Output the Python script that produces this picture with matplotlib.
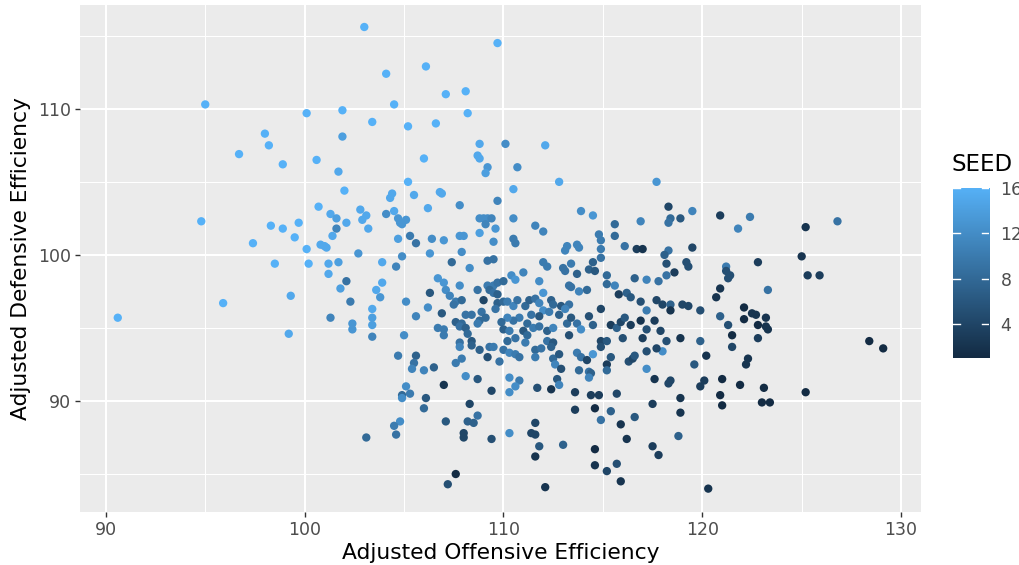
"""
Seed scatter: adjusted offensive vs defensive efficiency, ggplot look.
"""
import matplotlib
matplotlib.use('Agg')
import matplotlib.pyplot as plt
from matplotlib.colors import LinearSegmentedColormap, Normalize
import numpy as np

# (offense, defense, seed)
POINTS = [
    (95.0, 110.3, 16), (98.0, 108.3, 16), (98.2, 107.5, 16), (96.7, 106.9, 16), (98.9, 106.2, 16),
    (103.0, 115.6, 16), (109.7, 114.5, 16), (104.1, 112.4, 16), (106.1, 112.9, 16), (107.1, 111.0, 16),
    (108.1, 111.2, 16), (104.5, 110.3, 16), (100.1, 109.7, 16), (101.9, 109.9, 16), (108.2, 109.7, 16),
    (103.4, 109.1, 16), (105.2, 108.8, 16), (106.6, 109.0, 16), (101.9, 108.1, 14), (108.8, 107.6, 15),
    (108.7, 106.8, 15), (108.8, 106.6, 15), (109.2, 106.0, 13), (109.1, 105.6, 14), (100.6, 106.5, 16),
    (101.7, 105.7, 15), (106.0, 106.6, 16), (110.1, 107.6, 12), (112.1, 107.5, 15), (110.7, 106.0, 12),
    (94.8, 102.3, 16), (98.3, 102.0, 16), (98.9, 101.8, 16), (97.4, 100.8, 16), (98.5, 99.4, 16),
    (95.9, 96.7, 16), (90.6, 95.7, 16), (99.3, 97.2, 15), (99.2, 94.6, 15),
    (105.2, 105.0, 16), (102.0, 104.4, 16), (104.4, 104.2, 15), (104.3, 103.9, 15), (105.5, 104.1, 15),
    (106.8, 104.3, 15), (106.9, 104.2, 15), (107.8, 103.4, 12), (109.7, 103.7, 11), (100.7, 103.3, 16),
    (102.8, 103.1, 15), (104.5, 103.0, 15), (106.2, 103.2, 15), (101.3, 102.8, 15), (101.6, 102.5, 14),
    (103.1, 102.7, 15), (102.9, 102.4, 15), (104.1, 102.8, 12), (104.7, 102.5, 13), (104.8, 102.2, 13),
    (105.1, 102.4, 13), (104.9, 102.1, 13), (99.7, 102.2, 16), (102.1, 102.2, 15), (101.6, 101.8, 11),
    (103.2, 101.8, 15), (108.8, 102.5, 12), (109.0, 102.5, 12), (109.2, 102.5, 12), (109.4, 102.5, 11),
    (109.1, 102.1, 11), (109.6, 101.8, 13), (108.8, 101.5, 14), (99.5, 101.2, 16), (101.4, 101.3, 15),
    (104.7, 101.1, 14), (105.3, 101.3, 10), (105.6, 100.8, 9), (106.4, 101.1, 12), (107.0, 101.0, 13),
    (107.8, 101.3, 13), (108.0, 101.3, 13), (109.5, 100.9, 12), (100.8, 100.7, 15), (101.0, 100.6, 15),
    (101.1, 100.5, 15), (100.1, 100.4, 16), (102.7, 100.1, 13), (104.9, 99.9, 12), (106.3, 100.1, 13),
    (107.9, 100.2, 12), (100.2, 99.4, 16), (101.2, 99.4, 15), (101.7, 99.5, 14), (103.9, 99.5, 15),
    (104.6, 99.2, 11), (107.4, 99.5, 8), (108.3, 99.1, 12), (109.2, 99.6, 9), (109.5, 99.7, 9),
    (101.2, 98.7, 15), (102.1, 98.2, 9), (101.8, 97.7, 14), (103.9, 98.1, 15), (103.6, 97.6, 15),
    (103.8, 97.1, 13), (102.3, 96.8, 10), (106.7, 98.4, 13), (107.0, 98.1, 13), (107.1, 97.6, 12),
    (107.3, 97.2, 11), (107.6, 96.8, 10), (107.5, 96.6, 9), (107.8, 97.9, 12), (106.3, 97.4, 6),
    (105.1, 96.8, 12), (106.2, 96.4, 12), (106.9, 96.0, 6), (107.9, 96.9, 8), (108.7, 97.6, 9),
    (109.0, 96.9, 4), (109.2, 97.9, 10), (109.5, 97.9, 10), (109.3, 97.6, 8), (109.5, 97.4, 9),
    (109.7, 98.1, 9), (109.7, 97.3, 7), (109.7, 96.7, 7), (109.6, 96.3, 9), (103.4, 96.3, 15),
    (103.4, 95.7, 14), (103.4, 95.2, 14), (103.4, 94.4, 11), (101.3, 95.7, 11), (102.4, 95.3, 13),
    (102.4, 94.9, 13), (105.0, 94.5, 12), (105.6, 95.8, 11), (106.7, 95.0, 10), (107.0, 94.9, 10),
    (107.0, 94.5, 10), (107.6, 95.4, 7), (107.9, 95.3, 8), (108.1, 95.9, 9), (108.4, 95.9, 9),
    (108.9, 96.1, 9), (108.8, 95.5, 8), (109.1, 95.7, 8), (108.7, 95.3, 10), (107.8, 95.1, 9),
    (108.1, 95.0, 7), (108.2, 94.6, 8), (108.4, 94.1, 6), (107.8, 94.0, 9),
    (112.8, 105.0, 15), (117.7, 105.0, 13), (110.5, 104.5, 15), (113.9, 103.0, 12), (114.5, 102.7, 13),
    (118.3, 103.3, 4), (119.5, 103.0, 11), (118.9, 102.5, 6), (118.4, 102.5, 8), (118.3, 102.2, 9),
    (116.9, 102.3, 11), (115.6, 102.1, 8), (110.5, 102.5, 12), (111.6, 102.0, 11), (112.0, 101.6, 11),
    (110.5, 101.1, 10), (110.6, 100.8, 10), (114.8, 101.4, 10), (114.9, 101.0, 10), (114.9, 100.4, 10),
    (114.9, 99.8, 9), (115.6, 101.3, 8), (116.1, 100.6, 9), (116.7, 100.4, 3), (117.0, 100.4, 2),
    (113.2, 100.6, 11), (113.1, 100.3, 11), (113.7, 100.7, 11), (113.8, 100.5, 11), (118.3, 100.3, 9),
    (119.5, 100.5, 4), (118.1, 100.0, 7), (118.2, 99.4, 5), (119.2, 99.5, 5), (119.3, 99.2, 5),
    (118.6, 98.8, 3), (118.2, 98.6, 9), (112.0, 99.5, 10), (112.2, 99.2, 10), (111.0, 98.8, 11),
    (110.4, 98.6, 12), (110.6, 98.3, 13), (113.0, 99.1, 9), (113.1, 98.9, 9), (113.4, 99.4, 10),
    (113.7, 98.7, 7), (114.3, 99.0, 7), (114.6, 98.9, 6), (114.5, 99.5, 7), (115.2, 98.6, 8),
    (115.2, 98.0, 8), (115.6, 97.9, 11), (116.6, 98.4, 7), (117.2, 98.3, 11), (117.8, 98.2, 9),
    (110.0, 98.2, 8), (111.8, 98.2, 12), (112.0, 97.4, 13), (113.3, 97.9, 9), (113.4, 97.8, 9),
    (113.8, 97.5, 11), (114.2, 97.6, 8), (115.8, 97.3, 3), (116.2, 97.4, 7), (116.4, 97.1, 6),
    (116.9, 96.8, 5), (117.7, 96.9, 4), (118.0, 96.6, 4), (118.4, 96.6, 7), (119.0, 96.6, 4),
    (119.3, 96.5, 4), (119.9, 96.2, 5), (118.4, 96.2, 2), (117.2, 96.2, 10), (114.9, 96.3, 4),
    (110.0, 96.8, 8), (110.2, 96.8, 10), (110.5, 96.5, 11), (110.7, 96.9, 9), (111.1, 96.5, 8),
    (111.3, 96.9, 7), (111.6, 97.0, 9), (111.8, 96.7, 11), (112.0, 96.2, 12), (112.4, 96.9, 7),
    (112.5, 96.6, 8), (112.9, 96.5, 6), (113.3, 96.6, 9), (113.1, 96.3, 11), (112.8, 95.9, 7),
    (112.3, 96.1, 10), (111.8, 95.8, 6), (111.4, 95.9, 9), (111.2, 95.3, 8), (110.8, 95.7, 10),
    (110.5, 95.5, 9), (110.2, 95.7, 11), (109.9, 95.4, 8), (110.0, 94.9, 7), (110.3, 94.8, 10),
    (110.6, 94.3, 9), (111.0, 94.8, 6), (111.2, 94.5, 8), (111.5, 95.0, 10), (111.8, 95.1, 9),
    (112.2, 94.8, 7), (112.5, 95.0, 11), (113.2, 95.3, 8), (113.4, 95.7, 6), (113.7, 95.3, 9),
    (113.9, 94.9, 12), (114.3, 95.8, 5), (114.5, 95.2, 7), (113.3, 94.5, 5), (112.2, 94.1, 9),
    (112.5, 94.0, 6), (111.1, 94.0, 10), (110.2, 94.1, 8),
    (115.4, 95.2, 3), (115.7, 95.0, 7), (115.9, 95.4, 4), (116.1, 95.7, 6), (116.4, 95.2, 3),
    (116.9, 95.5, 2), (117.2, 94.9, 5), (117.6, 95.5, 3), (117.9, 94.8, 4), (117.0, 94.3, 3),
    (118.2, 94.1, 5), (118.9, 94.3, 2), (119.9, 94.1, 7), (116.0, 94.3, 5), (114.9, 94.1, 4),
    (115.2, 94.1, 6),
    (120.9, 102.7, 3), (122.4, 102.6, 10), (121.8, 101.8, 11), (125.2, 101.9, 2), (126.8, 102.3, 9),
    (125.0, 99.9, 2), (122.8, 99.5, 3), (121.2, 99.2, 10), (121.2, 98.9, 5), (121.4, 98.6, 5),
    (121.3, 98.4, 5), (125.3, 98.6, 3), (125.9, 98.6, 3), (120.9, 97.7, 2), (120.7, 97.1, 2),
    (123.3, 97.6, 9), (122.1, 96.4, 1), (122.1, 95.6, 1), (122.5, 96.0, 2), (122.7, 95.9, 2),
    (123.2, 95.7, 2), (120.9, 95.8, 7), (121.3, 95.2, 5), (122.8, 95.2, 1), (123.2, 95.1, 2),
    (123.3, 94.9, 2), (121.5, 94.5, 1), (122.8, 94.3, 3), (128.4, 94.1, 1), (129.1, 93.6, 1),
    (121.5, 93.7, 4), (122.3, 92.9, 2), (122.2, 92.5, 2), (121.0, 91.5, 1), (121.9, 91.1, 1),
    (120.9, 90.4, 1), (121.0, 89.7, 1), (123.1, 90.9, 1), (123.0, 89.9, 1), (123.4, 89.9, 1),
    (125.2, 90.6, 1), (120.3, 84.0, 2),
    (104.7, 93.1, 10), (105.6, 93.1, 7), (105.5, 92.6, 9), (105.4, 92.2, 11), (106.0, 92.1, 11),
    (106.5, 92.3, 7), (107.6, 92.6, 10), (107.9, 92.9, 10), (107.8, 93.7, 11), (108.4, 93.8, 7),
    (108.8, 93.5, 7), (109.3, 93.7, 9), (109.5, 93.7, 10), (109.2, 93.0, 5), (109.8, 92.7, 9),
    (108.1, 91.7, 12), (108.7, 91.5, 6), (107.0, 91.1, 2), (109.4, 90.7, 4), (105.1, 91.0, 12),
    (104.9, 90.4, 8), (105.3, 90.5, 10), (104.9, 90.2, 12), (106.1, 90.2, 6), (106.0, 89.5, 8),
    (108.3, 89.8, 4), (108.7, 89.0, 9), (108.2, 88.6, 7), (108.5, 88.5, 7), (104.8, 88.6, 12),
    (104.5, 88.3, 10), (104.6, 87.7, 9), (107.1, 88.6, 6), (103.1, 87.5, 8), (108.0, 87.8, 4),
    (108.0, 87.5, 4), (109.4, 87.4, 5), (107.6, 85.0, 1), (107.2, 84.3, 5),
    (110.0, 93.5, 9), (110.3, 93.3, 11), (110.6, 93.2, 10), (110.8, 93.0, 9), (111.6, 93.5, 8),
    (111.6, 93.0, 10), (111.9, 93.6, 9), (112.4, 93.7, 7), (112.5, 92.9, 8), (112.8, 93.2, 6),
    (112.6, 92.5, 11), (112.9, 92.2, 5), (113.7, 93.3, 10), (113.9, 93.0, 9), (114.2, 92.8, 4),
    (114.5, 93.2, 13), (113.8, 92.1, 8), (114.3, 92.0, 9), (114.4, 91.9, 7), (114.3, 91.6, 11),
    (114.9, 93.7, 5), (115.2, 92.5, 3), (115.2, 92.1, 8), (115.4, 93.0, 6), (116.3, 92.7, 5),
    (116.5, 92.9, 4), (116.6, 93.1, 6), (117.2, 93.4, 5), (117.2, 92.2, 12), (118.0, 93.4, 12),
    (117.7, 93.6, 4), (119.6, 92.5, 6), (120.2, 93.1, 2), (118.4, 91.4, 4), (118.3, 91.2, 4),
    (117.6, 91.5, 2), (120.1, 91.4, 3), (119.9, 91.0, 3), (110.3, 91.6, 12), (110.8, 91.4, 10),
    (110.6, 91.0, 12), (110.3, 90.6, 12), (111.7, 90.9, 5), (112.4, 90.8, 2), (112.7, 91.5, 6),
    (112.8, 91.1, 11), (113.6, 90.6, 3), (114.4, 90.4, 3), (114.8, 90.4, 3), (115.7, 90.5, 4),
    (118.9, 90.2, 2), (117.5, 89.8, 3), (118.9, 89.2, 2), (113.6, 89.4, 3), (114.6, 89.5, 1),
    (115.4, 89.3, 7), (114.9, 88.7, 9), (115.9, 88.4, 2), (116.6, 88.9, 6), (111.6, 88.5, 4),
    (110.3, 87.8, 12), (111.4, 87.8, 4), (111.6, 87.7, 4), (111.8, 86.9, 6), (111.6, 86.2, 2),
    (113.0, 87.0, 7), (114.6, 86.7, 1), (116.2, 87.4, 2), (118.8, 87.6, 7), (117.5, 86.9, 3),
    (117.8, 86.3, 3), (114.6, 85.6, 2), (115.2, 85.2, 4), (115.7, 85.7, 5), (115.9, 84.5, 2),
    (112.1, 84.1, 2),
]

offense = [p[0] for p in POINTS]
defense = [p[1] for p in POINTS]
seed = [p[2] for p in POINTS]

X_TICKS = [90, 100, 110, 120, 130]
Y_TICKS = [90, 100, 110]
SEED_TICKS = [4, 8, 12, 16]

PANEL_BG = '#EBEBEB'
TICK_GRAY = '#4D4D4D'
LOW_COLOR = '#132B43'
HIGH_COLOR = '#56B1F7'


def style_panel(ax):
    ax.set_facecolor(PANEL_BG)
    ax.set_xlim(88.7, 131.0)
    ax.set_ylim(82.4, 117.1)
    ax.set_xticks(X_TICKS)
    ax.set_yticks(Y_TICKS)
    ax.set_xticks([95, 105, 115, 125], minor=True)
    ax.set_yticks([85, 95, 105, 115], minor=True)
    ax.grid(which='major', color='white', linewidth=1.5)
    ax.grid(which='minor', color='white', linewidth=0.75)
    ax.set_axisbelow(True)
    for s in ax.spines.values():
        s.set_visible(False)
    ax.tick_params(which='major', length=3.5, width=1.0, color='#333333',
                   labelcolor=TICK_GRAY, labelsize=12.5, pad=3)
    ax.tick_params(which='minor', length=0)
    ax.set_xlabel('Adjusted Offensive Efficiency', fontsize=15.7, labelpad=3)
    ax.set_ylabel('Adjusted Defensive Efficiency', fontsize=15.7, labelpad=5)


def draw_colorbar(fig, cmap, norm):
    cax = fig.add_axes([0.935, 0.366, 0.036, 0.301])
    grad = np.linspace(1, 16, 300).reshape(-1, 1)
    cax.imshow(grad, aspect='auto', cmap=cmap, norm=norm, origin='lower',
               extent=[0, 1, 1, 16])
    cax.set_xlim(0, 1)
    cax.set_ylim(1, 16)
    for t in SEED_TICKS:
        cax.plot([0, 0.2], [t, t], color='white', linewidth=1)
        cax.plot([0.8, 1], [t, t], color='white', linewidth=1)
    cax.set_xticks([])
    cax.set_yticks(SEED_TICKS)
    cax.yaxis.tick_right()
    cax.tick_params(length=0, labelcolor=TICK_GRAY, labelsize=12.5, pad=8)
    for s in cax.spines.values():
        s.set_visible(False)
    fig.text(0.934, 0.688, 'SEED', fontsize=16.5, ha='left', va='bottom')


def main():
    fig = plt.figure(figsize=(10.19, 5.65), dpi=100)
    ax = fig.add_axes([0.0785, 0.0938, 0.8253, 0.8972])
    cmap = LinearSegmentedColormap.from_list('gg', [LOW_COLOR, HIGH_COLOR])
    norm = Normalize(vmin=1, vmax=16)
    ax.scatter(offense, defense, c=seed, cmap=cmap, norm=norm, s=36,
               linewidths=0, zorder=3)
    style_panel(ax)
    draw_colorbar(fig, cmap, norm)
    fig.savefig('out.png', dpi=100)


if __name__ == '__main__':
    main()
